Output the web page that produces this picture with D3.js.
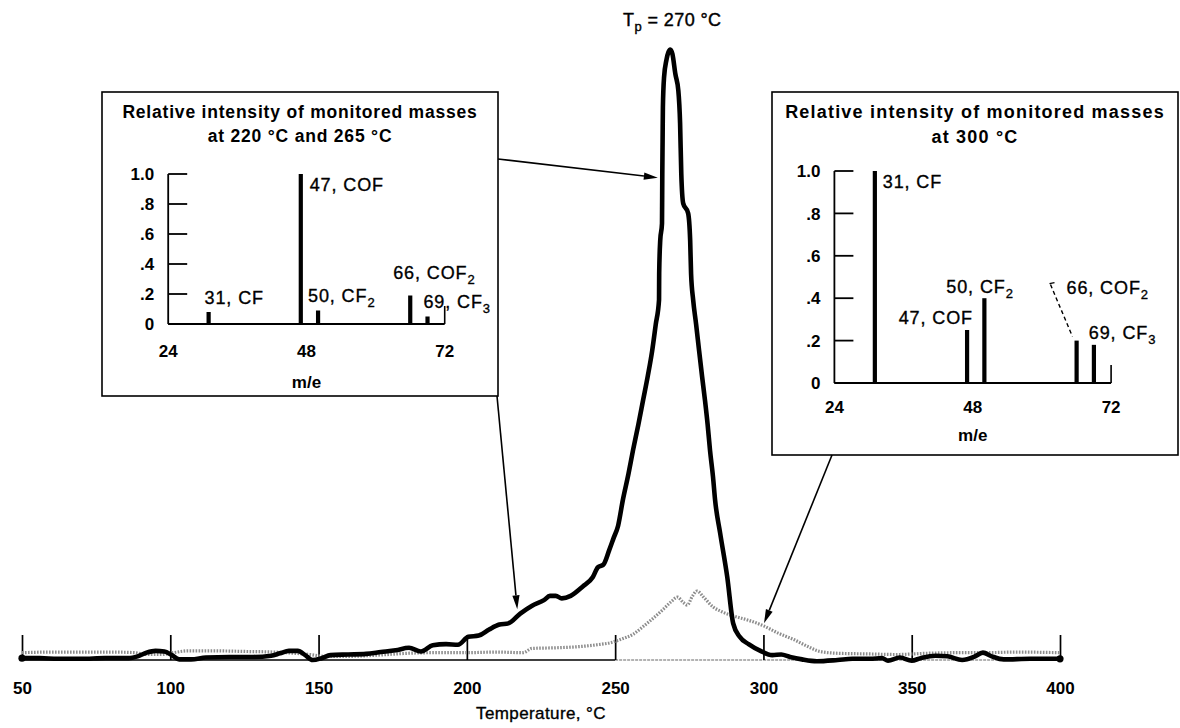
<!DOCTYPE html>
<html>
<head>
<meta charset="utf-8">
<script src="https://cdn.jsdelivr.net/npm/d3@7"></script>
<style>
html,body{margin:0;padding:0;background:#fff;}
svg{display:block;}
</style>
</head>
<body>
<svg id="chart" width="1180" height="728"></svg>
<script>
// ---------------- data ----------------
const tempTicks = [50, 100, 150, 200, 250, 300, 350, 400];

const solidTemps = [50,56,62,70,78,86,89,92,95,98,100.5,103,107,112,120,128,134,137,140,143,145.5,148,151,154,160,166,171,176,180.5,184.5,188.5,193,197,200.5,204,207.5,211,214,218,222,226,228,230,232,235,239,242.5,244.2,246,248,249.5,251,252.6,254.5,256,257.8,259.4,261,262.5,263.7,264.8,264.85,265.2,265.8,265.9,266.0,266.1,266.5,267.3,268.0,268.6,269.3,270.3,271.3,271.9,272.3,272.95,274.6,275.3,275.6,276.3,277.3,278.3,279.3,280.3,281.2,282.0,283.0,283.7,285.4,287.8,289.8,292,295,299,303,306,309,313,318,325,330,336,340,342,346,350,353,358,362,367,371,374,377,381,390,400];
const solidSignal = [0.3,0.3,0.2,0.2,0.3,0.3,0.6,1.2,1.5,1.4,0.8,0.1,0.1,0.4,0.5,0.5,0.7,1.1,1.5,1.5,0.8,0.0,0.3,0.8,0.9,1.0,1.3,1.6,2.0,1.4,2.4,2.6,2.5,3.8,4.0,5.0,5.8,6.0,7.6,8.9,9.8,10.5,10.5,10.1,10.5,12.0,13.6,15.2,15.6,18.0,20.0,22.0,26.2,30.5,34.3,38.5,42.5,46.5,50.7,55,59,63.3,68.7,71.5,79.7,85,90.5,95.5,98.3,99.6,100,99.3,96,93.3,87.9,79.7,74.8,73.2,68.7,63.3,59,55,50.7,46.5,42.5,38.5,34.3,30,26.2,20.8,13.6,6.0,3.8,2.6,1.5,0.8,0.9,0.5,0.1,-0.2,0.0,0.2,0.2,0.3,-0.1,0.4,-0.1,0.3,0.7,0.6,0.0,0.5,1.2,0.6,0.1,0.2,0.2];

const dottedTemps = [50,60,70,80,88,92,97,101,106,115,125,135,142,147,152,160,170,180,190,200,210,219,222,230,238,244,249,252,256,259,262,266,269,271,273,274.3,276,277.6,280,283,286,290,295,300,305,310,315,319,325,335,345,355,365,375,385,400];
const dottedSignal = [1.2,1.3,1.3,1.3,1.2,0.9,0.9,1.2,1.5,1.5,1.4,1.3,1.1,0.9,0.6,0.6,0.8,1.1,1.2,1.2,1.3,1.2,1.9,2.0,2.2,2.5,2.9,3.4,4.2,5.3,6.5,8.2,9.6,10.3,9.4,9.0,10.4,11.3,10.2,8.7,7.9,7.2,6.5,5.6,4.4,3.4,2.2,1.4,1.1,1.0,0.9,1.1,1.2,1.2,1.3,1.2];

const peakTempLabel = 270;
const xAxisTitle = "Temperature, °C";

const massTicks = [24, 48, 72];
const intensityTicks = [0, 0.2, 0.4, 0.6, 0.8, 1.0];
const intensityTickLabels = ["0", ".2", ".4", ".6", ".8", "1.0"];
const massAxisTitle = "m/e";

const massNumbers = [31, 47, 50, 66, 69];
const speciesNames = ["CF", "COF", "CF", "COF", "CF"];
const speciesSubs = ["", "", "2", "2", "3"];
const intensityLow = [0.08, 1.0, 0.09, 0.19, 0.05];   // at 220 °C and 265 °C
const intensityHigh = [1.0, 0.25, 0.40, 0.20, 0.18];  // at 300 °C
const titleLow = ["Relative intensity of monitored masses", "at 220 °C and 265 °C"];
const titleHigh = ["Relative intensity of monitored masses", "at 300 °C"];

// ---------------- layout ----------------
const FONT = "'Liberation Sans', Arial, Helvetica, sans-serif";
const svg = d3.select("#chart").attr("font-family", FONT);

const x = d3.scaleLinear().domain([50, 400]).range([22, 1060]);
const y = d3.scaleLinear().domain([0, 100]).range([660, 49.5]);

// baseline
svg.append("line").attr("x1", x(50)).attr("x2", x(250)).attr("y1", y(0)).attr("y2", y(0))
  .attr("stroke", "#000").attr("stroke-width", 1.4);
svg.append("line").attr("x1", x(250)).attr("x2", x(400)).attr("y1", y(0)).attr("y2", y(0))
  .attr("stroke", "#9a9a9a").attr("stroke-width", 1.3).attr("stroke-dasharray", "3 1");

// axis ticks (pointing up) and labels
const axis = d3.axisBottom(x).tickValues(tempTicks).tickSize(-25).tickSizeOuter(0).tickPadding(22)
  .tickFormat(d3.format("d"));
const ga = svg.append("g").attr("transform", `translate(0,${y(0)})`).call(axis)
  .attr("font-family", FONT).attr("font-size", 17);
ga.select(".domain").remove();
ga.selectAll(".tick line").attr("stroke", "#000").attr("stroke-width", 1.7);
ga.selectAll(".tick text").attr("fill", "#000").attr("font-weight", "bold");

svg.append("text").attr("x", (x(50) + x(400)) / 2).attr("y", 719)
  .attr("text-anchor", "middle").attr("font-size", 17).style("letter-spacing", "0.4px")
  .attr("stroke", "#000").attr("stroke-width", 0.35)
  .text(xAxisTitle);

// curves
const line = d3.line().x(d => x(d[0])).y(d => y(d[1])).curve(d3.curveMonotoneX);
const dottedData = d3.zip(dottedTemps, dottedSignal);
const solidData = d3.zip(solidTemps, solidSignal);

svg.append("path").attr("d", line(dottedData)).attr("fill", "none")
  .attr("stroke", "#8d8d8d").attr("stroke-width", 3.2).attr("stroke-dasharray", "1.6 1.4");
svg.append("path").attr("d", line(solidData)).attr("fill", "none")
  .attr("stroke", "#000").attr("stroke-width", 4.6)
  .attr("stroke-linejoin", "round").attr("stroke-linecap", "round");
svg.selectAll(null).data([solidData[0], solidData[solidData.length - 1]]).join("circle")
  .attr("cx", d => x(d[0])).attr("cy", d => y(d[1])).attr("r", 3.6).attr("fill", "#000");

// peak label
const peakIdx = d3.maxIndex(solidSignal);
const pt = svg.append("text").attr("x", x(solidTemps[peakIdx]) + 2).attr("y", 26)
  .attr("text-anchor", "middle").attr("font-size", 18).style("letter-spacing", "0.4px")
  .attr("stroke", "#000").attr("stroke-width", 0.4);
pt.append("tspan").text("T");
pt.append("tspan").attr("dy", 5).attr("font-size", 13).text("p");
pt.append("tspan").attr("dy", -5).text(` = ${peakTempLabel} °C`);

// ---------------- insets ----------------
const insetLow = {
  box: [102, 92, 396, 304], titleX: 300, titleY: [118, 142], titleSize: 17.5, titleSpacing: 0.8,
  xRange: [168.2, 444.7], yRange: [324, 174], xLabelY: 357, massTitleY: 388,
  labelOffsets: [[-4, -8, "start"], [9, 17, "start"], [-10, -9, "start"], [-17, -17, "start"], [-4, -9, "start"]]
};
const insetHigh = {
  box: [772, 92, 406, 363], titleX: 975, titleY: [118, 143], titleSize: 18, titleSpacing: 1.2,
  xRange: [834.4, 1111.1], yRange: [383, 171], xLabelY: 413, massTitleY: 441,
  labelOffsets: [[8, 17, "start"], [6, -6, "end"], [-38, -5, "start"], [-10, -47, "start"], [-5, -6, "start"]],
  leader: { index: 3, from: [-26, -56], to: [-4, -4] }
};

function drawInset(cfg, titles, values) {
  const g = svg.append("g");
  const [bx, by, bw, bh] = cfg.box;
  g.append("rect").attr("x", bx).attr("y", by).attr("width", bw).attr("height", bh)
    .attr("fill", "#fff").attr("stroke", "#000").attr("stroke-width", 1.6);

  g.selectAll(null).data(titles).join("text")
    .attr("x", cfg.titleX).attr("y", (d, i) => cfg.titleY[i])
    .attr("text-anchor", "middle").attr("font-weight", "bold").attr("font-size", cfg.titleSize)
    .style("letter-spacing", cfg.titleSpacing + "px").text(d => d);

  const ix = d3.scaleLinear().domain([massTicks[0], massTicks[massTicks.length - 1]]).range(cfg.xRange);
  const iy = d3.scaleLinear().domain([0, 1]).range(cfg.yRange);
  const x0 = ix(massTicks[0]);

  // y axis
  g.append("line").attr("x1", x0).attr("x2", x0).attr("y1", iy(0)).attr("y2", iy(1))
    .attr("stroke", "#000").attr("stroke-width", 1.8);
  g.selectAll(null).data(intensityTicks).join("line")
    .attr("x1", x0).attr("x2", x0 + 19).attr("y1", d => iy(d)).attr("y2", d => iy(d))
    .attr("stroke", "#000").attr("stroke-width", 1.8);
  g.selectAll(null).data(intensityTicks).join("text")
    .attr("x", x0 - 14).attr("y", d => iy(d)).attr("dy", "0.36em")
    .attr("text-anchor", "end").attr("font-weight", "bold").attr("font-size", 17)
    .text((d, i) => intensityTickLabels[i]);

  // x axis
  const x1 = ix(massTicks[massTicks.length - 1]);
  g.append("line").attr("x1", x0).attr("x2", x1).attr("y1", iy(0)).attr("y2", iy(0))
    .attr("stroke", "#000").attr("stroke-width", 2);
  g.append("line").attr("x1", x1).attr("x2", x1).attr("y1", iy(0)).attr("y2", iy(0) - 18)
    .attr("stroke", "#000").attr("stroke-width", 1.6);
  g.selectAll(null).data(massTicks).join("text")
    .attr("x", d => ix(d)).attr("y", cfg.xLabelY).attr("text-anchor", "middle")
    .attr("font-weight", "bold").attr("font-size", 17).text(d => d);
  g.append("text").attr("x", ix(48)).attr("y", cfg.massTitleY).attr("text-anchor", "middle")
    .attr("font-weight", "bold").attr("font-size", 17).text(massAxisTitle);

  // bars
  g.selectAll(null).data(massNumbers).join("rect")
    .attr("x", d => ix(d) - 2).attr("width", 4.2)
    .attr("y", (d, i) => iy(values[i])).attr("height", (d, i) => iy(0) - iy(values[i]))
    .attr("fill", "#000");

  // bar labels
  massNumbers.forEach((m, i) => {
    const [dx, dy, anchor] = cfg.labelOffsets[i];
    const t = g.append("text").attr("x", ix(m) + dx).attr("y", iy(values[i]) + dy)
      .attr("text-anchor", anchor).attr("font-size", 18).style("letter-spacing", "0.9px")
      .attr("stroke", "#000").attr("stroke-width", 0.35);
    t.append("tspan").text(`${m}, ${speciesNames[i]}`);
    if (speciesSubs[i]) t.append("tspan").attr("dy", 5).attr("font-size", 13).text(speciesSubs[i]);
  });

  if (cfg.leader) {
    const L = cfg.leader, m = massNumbers[L.index], v = values[L.index];
    const ax = ix(m), ay = iy(v);
    g.append("line").attr("x1", ax + L.from[0]).attr("y1", ay + L.from[1])
      .attr("x2", ax + L.to[0]).attr("y2", ay + L.to[1])
      .attr("stroke", "#000").attr("stroke-width", 1.4).attr("stroke-dasharray", "4 3");
    g.append("line").attr("x1", ax + L.from[0] - 1).attr("y1", ay + L.from[1] - 1)
      .attr("x2", ax + L.from[0] + 4).attr("y2", ay + L.from[1] - 2)
      .attr("stroke", "#000").attr("stroke-width", 1.3);
  }
}

drawInset(insetLow, titleLow, intensityLow);
drawInset(insetHigh, titleHigh, intensityHigh);

// ---------------- arrows ----------------
function arrow(from, to) {
  const dxv = to[0] - from[0], dyv = to[1] - from[1];
  const len = Math.hypot(dxv, dyv), ux = dxv / len, uy = dyv / len;
  const hl = 14, hw = 3.6;
  const bxp = to[0] - ux * hl, byp = to[1] - uy * hl;
  svg.append("line").attr("x1", from[0]).attr("y1", from[1]).attr("x2", bxp).attr("y2", byp)
    .attr("stroke", "#000").attr("stroke-width", 1.6);
  svg.append("path").attr("d",
    `M${to[0]},${to[1]}L${bxp - uy * hw},${byp + ux * hw}L${bxp + uy * hw},${byp - ux * hw}Z`)
    .attr("fill", "#000");
}
const lb = insetLow.box, hb = insetHigh.box;
arrow([lb[0] + lb[2], 159], [x(264.4), y(79)]);
arrow([lb[0] + lb[2] - 1, lb[1] + lb[3]], [x(217), y(8.3)]);
arrow([832, hb[1] + hb[3]], [x(300.2), y(6.0)]);
</script>
</body>
</html>
